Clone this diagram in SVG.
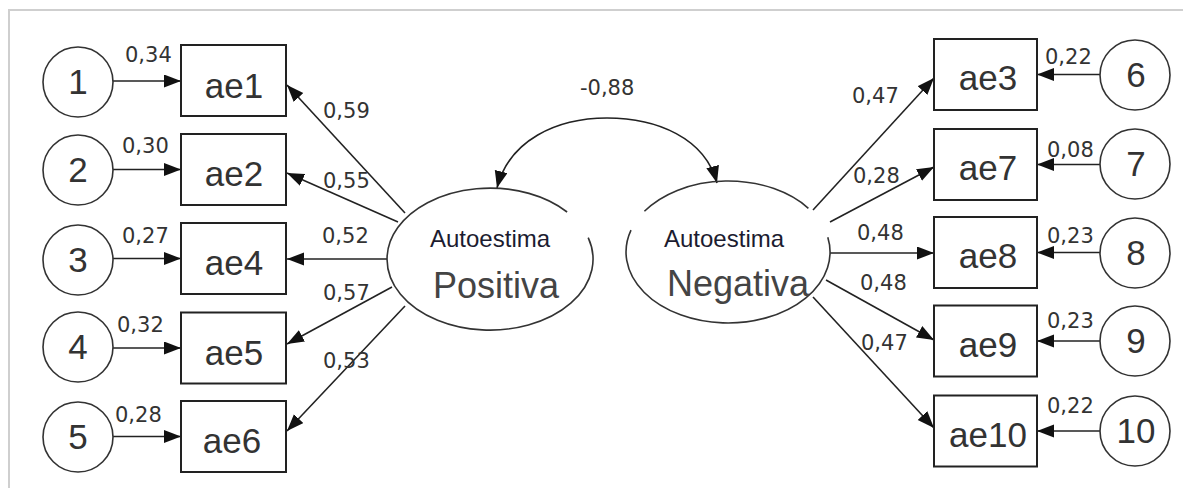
<svg xmlns="http://www.w3.org/2000/svg" width="1193" height="488" viewBox="0 0 1193 488">
<style>
.frame{fill:none;stroke:#cfcfcf;stroke-width:2}
.box{fill:#fff;stroke:#222;stroke-width:2}
.circ{fill:#fff;stroke:#333;stroke-width:1.6}
.ell{fill:none;stroke:#333;stroke-width:1.6}
.con{fill:none;stroke:#222;stroke-width:1.6;marker-end:url(#ah)}
.lbl{font-family:"Liberation Sans",Arial,sans-serif;font-size:35px;fill:#333;text-anchor:middle}
.num{font-family:"DejaVu Sans",sans-serif;font-size:21px;fill:#333}
.auto{font-family:"Liberation Sans",Arial,sans-serif;font-size:24px;fill:#1c1c30}
.big{font-family:"Liberation Sans",Arial,sans-serif;font-size:36px;fill:#444}
</style>
<defs>
<marker id="ah" markerUnits="userSpaceOnUse" markerWidth="18" markerHeight="14" refX="17" refY="6.5" orient="auto">
<path d="M0,0 L17,6.5 L0,13 z" fill="#111"/>
</marker>
</defs>
<path class="frame" d="M9,488 V10 H1183"/>
<g id="connectors">
<line class="con" x1="113" y1="81" x2="181" y2="81"/>
<line class="con" x1="113" y1="169.5" x2="181" y2="169.5"/>
<line class="con" x1="113" y1="258.5" x2="181" y2="258.5"/>
<line class="con" x1="113" y1="348" x2="181" y2="348"/>
<line class="con" x1="113" y1="436.5" x2="181" y2="436.5"/>
<line class="con" x1="405" y1="213" x2="287" y2="85"/>
<line class="con" x1="398" y1="222" x2="287" y2="173"/>
<line class="con" x1="387" y1="259" x2="287" y2="259"/>
<line class="con" x1="392" y1="287" x2="287" y2="344"/>
<line class="con" x1="405" y1="306" x2="287" y2="431"/>
<line class="con" x1="813" y1="210" x2="934" y2="78"/>
<line class="con" x1="830" y1="222" x2="934" y2="167"/>
<line class="con" x1="830" y1="253" x2="934" y2="253"/>
<line class="con" x1="826" y1="280" x2="934" y2="340"/>
<line class="con" x1="813" y1="297" x2="934" y2="428"/>
<line class="con" x1="1100" y1="74.5" x2="1037" y2="74.5"/>
<line class="con" x1="1100" y1="164.5" x2="1037" y2="164.5"/>
<line class="con" x1="1100" y1="252.5" x2="1037" y2="252.5"/>
<line class="con" x1="1100" y1="341" x2="1037" y2="341"/>
<line class="con" x1="1100" y1="431" x2="1037" y2="431"/>
<path class="con" d="M607,118 C557,118 509,140 497,188"/>
<path class="con" d="M607,118 C657,118 705,138 717,183"/>
<text class="num" x="580" y="95">-0,88</text>
<text class="num" x="125" y="62">0,34</text>
<text class="num" x="122" y="153">0,30</text>
<text class="num" x="122" y="243">0,27</text>
<text class="num" x="117" y="332">0,32</text>
<text class="num" x="115" y="422">0,28</text>
<text class="num" x="323" y="118">0,59</text>
<text class="num" x="323" y="188">0,55</text>
<text class="num" x="322" y="243">0,52</text>
<text class="num" x="323" y="300">0,57</text>
<text class="num" x="323" y="368">0,53</text>
<text class="num" x="852" y="103">0,47</text>
<text class="num" x="853" y="183">0,28</text>
<text class="num" x="857" y="240">0,48</text>
<text class="num" x="860" y="290">0,48</text>
<text class="num" x="861" y="350">0,47</text>
<text class="num" x="1045" y="64">0,22</text>
<text class="num" x="1047" y="157">0,08</text>
<text class="num" x="1047" y="243">0,23</text>
<text class="num" x="1047" y="328">0,23</text>
<text class="num" x="1047" y="413">0,22</text>
</g>
<g id="e1"><circle class="circ" cx="78" cy="82" r="35"/><text class="lbl" x="78" y="94">1</text></g>
<g id="e2"><circle class="circ" cx="78" cy="170" r="35"/><text class="lbl" x="78" y="182">2</text></g>
<g id="e3"><circle class="circ" cx="78" cy="260" r="35"/><text class="lbl" x="78" y="272">3</text></g>
<g id="e4"><circle class="circ" cx="78" cy="347" r="35"/><text class="lbl" x="78" y="359">4</text></g>
<g id="e5"><circle class="circ" cx="78" cy="437" r="35"/><text class="lbl" x="78" y="449">5</text></g>
<g id="ae1"><rect class="box" x="181" y="45" width="105" height="71"/><text class="lbl" x="234" y="98">ae1</text></g>
<g id="ae2"><rect class="box" x="181" y="134" width="105" height="71"/><text class="lbl" x="234" y="186">ae2</text></g>
<g id="ae4"><rect class="box" x="181" y="223" width="105" height="71"/><text class="lbl" x="234" y="275">ae4</text></g>
<g id="ae5"><rect class="box" x="181" y="312.5" width="105" height="71"/><text class="lbl" x="234" y="365">ae5</text></g>
<g id="ae6"><rect class="box" x="181" y="401" width="105" height="71"/><text class="lbl" x="232" y="453">ae6</text></g>
<g id="positiva">
<path class="ell" d="M588.2,237.6 A103,71 0 1 1 567.1,212"/>
<text class="auto" x="430" y="247">Autoestima</text>
<text class="big" x="433" y="298">Positiva</text>
</g>
<g id="negativa">
<path class="ell" d="M827.8,237.2 A102,71 0 1 1 631,230.1"/>
<path class="ell" d="M644.4,211.3 A102,71 0 0 1 808.4,208.3"/>
<text class="auto" x="664" y="247">Autoestima</text>
<text class="big" x="667" y="296">Negativa</text>
</g>
<g id="ae3"><rect class="box" x="934" y="39" width="103" height="71"/><text class="lbl" x="988" y="90">ae3</text></g>
<g id="ae7"><rect class="box" x="934" y="129" width="103" height="71"/><text class="lbl" x="988" y="180">ae7</text></g>
<g id="ae8"><rect class="box" x="934" y="217" width="103" height="71"/><text class="lbl" x="988" y="268">ae8</text></g>
<g id="ae9"><rect class="box" x="934" y="305.5" width="103" height="71"/><text class="lbl" x="988" y="357">ae9</text></g>
<g id="ae10"><rect class="box" x="934" y="395.5" width="103" height="71"/><text class="lbl" x="988" y="447">ae10</text></g>
<g id="e6"><circle class="circ" cx="1135" cy="75" r="35"/><text class="lbl" x="1136" y="87">6</text></g>
<g id="e7"><circle class="circ" cx="1135" cy="164" r="35"/><text class="lbl" x="1136" y="176">7</text></g>
<g id="e8"><circle class="circ" cx="1135" cy="253" r="35"/><text class="lbl" x="1136" y="265">8</text></g>
<g id="e9"><circle class="circ" cx="1135" cy="341" r="35"/><text class="lbl" x="1136" y="353">9</text></g>
<g id="e10"><circle class="circ" cx="1135" cy="431" r="35"/><text class="lbl" x="1136" y="443">10</text></g>
</svg>
